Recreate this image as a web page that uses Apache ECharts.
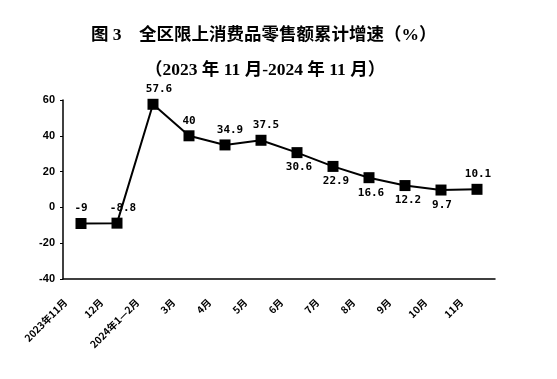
<!DOCTYPE html>
<html><head><meta charset="utf-8">
<script src="https://cdn.jsdelivr.net/npm/echarts@6/dist/echarts.min.js"></script>
<style>html,body{margin:0;padding:0;background:#fff}#c{width:557px;height:379px}</style>
</head><body><div id="c"></div>
<script>
var categories = ['2023年11月','12月','2024年1—2月','3月','4月','5月','6月','7月','8月','9月','10月','11月'];
var values = [-9, -8.8, 57.6, 40, 34.9, 37.5, 30.6, 22.9, 16.6, 12.2, 9.7, 10.1];
var labelPos = ['top','top','top','top','top','top','bottom','bottom','bottom','bottom','bottom','top'];
var labelDx = [0, 6, 6, 0, 5, 5, 2, 3, 2, 3, 1, 1];
var yTicks = [-40, -20, 0, 20, 40, 60];

var chart = echarts.init(document.getElementById('c'));
var serif = '"Liberation Serif","Noto Sans CJK SC",serif';
chart.setOption({
  backgroundColor: '#fff',
  animation: false,
  title: [
    {text: '图 3　全区限上消费品零售额累计增速（%）', left: 86, top: 22,
     textStyle: {fontFamily: serif, fontWeight: 'bold', fontSize: 17.5, color: '#000'}},
    {text: '（2023 年 11 月-2024 年 11 月）', left: 140, top: 57,
     textStyle: {fontFamily: serif, fontWeight: 'bold', fontSize: 17.5, color: '#000'}}
  ],
  grid: {left: 63, right: 62, top: 100, bottom: 100},
  xAxis: {
    type: 'category', data: categories, boundaryGap: true,
    axisLine: {onZero: false, lineStyle: {color: '#000', width: 1.5}},
    axisTick: {inside: true, length: 3, lineStyle: {color: '#000'}},
    axisLabel: {rotate: 45, interval: 0, fontSize: 10, fontWeight: 'bold', color: '#000',
      fontFamily: '"Noto Sans CJK SC",sans-serif', margin: 6, padding: [0, 22, 16, 0]}
  },
  yAxis: {
    type: 'value', min: yTicks[0], max: yTicks[yTicks.length-1], interval: 20,
    splitLine: {show: false},
    axisLine: {show: true, lineStyle: {color: '#000', width: 1.5}},
    axisTick: {show: true, length: 3, lineStyle: {color: '#000'}},
    axisLabel: {fontSize: 11, fontWeight: 'bold', color: '#000', fontFamily: 'Liberation Sans, Arial', margin: 8}
  },
  series: [{
    type: 'line',
    data: values.map(function(v, i){
      return {value: v, label: {position: labelPos[i], offset: [labelDx[i], 0]}};
    }),
    symbol: 'rect', symbolSize: 11,
    lineStyle: {color: '#000', width: 2},
    itemStyle: {color: '#000'},
    label: {show: true, distance: 4, fontSize: 11, fontWeight: 'bold', color: '#000',
      fontFamily: '"DejaVu Sans Mono",monospace'}
  }]
});
</script></body></html>
